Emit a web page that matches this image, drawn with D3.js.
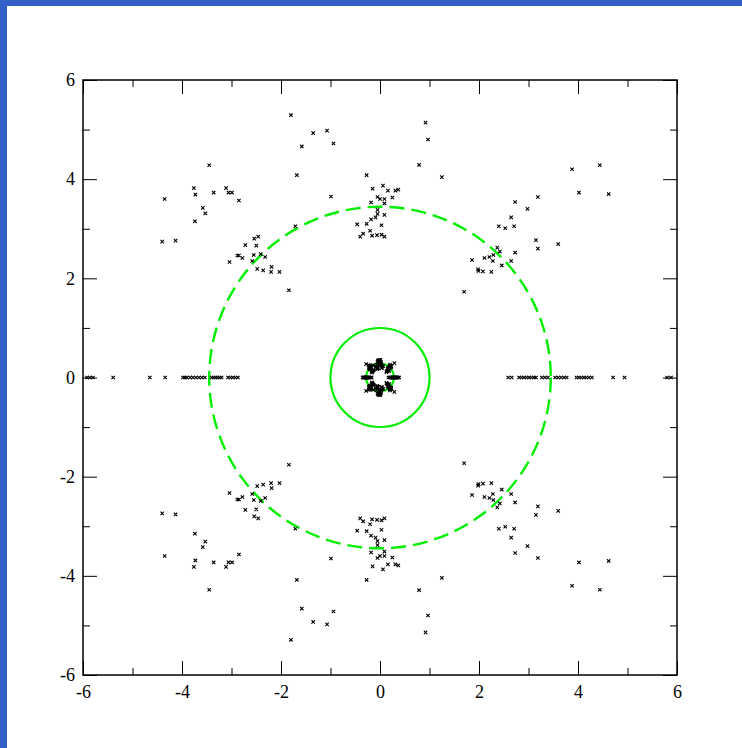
<!DOCTYPE html>
<html>
<head>
<meta charset="utf-8">
<script src="https://cdn.jsdelivr.net/npm/d3@7"></script>
<style>
  html, body { margin: 0; padding: 0; background: #ffffff; }
  svg { display: block; }
</style>
</head>
<body>
<svg id="chart" width="742" height="748"></svg>
<script>
// Axis ticks
const majorTicks = [-6, -4, -2, 0, 2, 4, 6];
const minorTicks = [-5, -3, -1, 1, 3, 5];

// Reference circles (radius in plot units)
const solidCircleRadius = [1, 0.28];
const dashedCircleRadius = [3.45];

// Roots in the upper half plane [re, im]
const upperRoots = [
  [-1.80, 5.29], [-1.35, 4.93], [-1.07, 4.98], [-1.58, 4.66], [-0.94, 4.72],
  [-1.68, 4.08], [-0.99, 3.65], [-1.71, 3.05], [-1.84, 1.76],
  [-3.45, 4.28], [-3.76, 3.82], [-3.11, 3.82], [-3.73, 3.69], [-3.36, 3.73],
  [-3.06, 3.73], [-2.99, 3.73], [-4.35, 3.60], [-2.85, 3.57], [-3.58, 3.42],
  [-3.53, 3.31], [-3.74, 3.15], [-4.40, 2.74], [-4.13, 2.76],
  [-2.54, 2.80], [-2.46, 2.84], [-2.72, 2.67], [-2.50, 2.66], [-2.88, 2.46],
  [-2.85, 2.46], [-2.78, 2.41], [-3.04, 2.33], [-2.55, 2.47], [-2.41, 2.49],
  [-2.32, 2.43], [-2.58, 2.35], [-2.48, 2.19], [-2.36, 2.16], [-2.19, 2.23],
  [-2.20, 2.13], [-2.03, 2.13],
  [-0.27, 4.08], [-0.15, 3.81], [0.06, 3.87], [0.16, 3.77], [0.31, 3.77],
  [0.37, 3.79], [-0.05, 3.64], [0.00, 3.60], [0.09, 3.60], [0.25, 3.63],
  [-0.18, 3.53], [0.09, 3.51], [-0.05, 3.38], [-0.05, 3.30], [-0.09, 3.23],
  [0.09, 3.28], [-0.18, 3.19], [-0.46, 3.09], [-0.27, 3.10], [0.03, 3.07],
  [-0.20, 2.96], [-0.34, 2.90], [-0.40, 2.84], [-0.16, 2.86], [-0.06, 2.87],
  [0.03, 2.88], [0.09, 2.84],
  [0.92, 5.14], [0.97, 4.80], [0.79, 4.29], [1.25, 4.04], [1.70, 1.73],
  [3.88, 4.20], [4.44, 4.28], [4.02, 3.73], [4.62, 3.70], [2.73, 3.54],
  [3.19, 3.64], [2.98, 3.40], [2.65, 3.23], [2.40, 3.05], [2.53, 3.01],
  [2.71, 3.05], [3.15, 2.77], [3.19, 2.60], [3.60, 2.69], [2.37, 2.62],
  [2.42, 2.54], [2.73, 2.52], [1.86, 2.37], [2.11, 2.41], [2.21, 2.43],
  [2.29, 2.47], [2.28, 2.35], [2.65, 2.35], [2.46, 2.26], [1.98, 2.18],
  [1.99, 2.15], [2.08, 2.14], [2.25, 2.13]
];

// Roots in the lower half plane [re, im]
const lowerRoots = [
  [-1.80, -5.29], [-1.35, -4.93], [-1.07, -4.98], [-1.58, -4.66], [-0.94, -4.72],
  [-1.68, -4.08], [-0.99, -3.65], [-1.71, -3.05], [-1.84, -1.76],
  [-3.45, -4.28], [-3.76, -3.82], [-3.11, -3.82], [-3.73, -3.69], [-3.36, -3.73],
  [-3.06, -3.73], [-2.99, -3.73], [-4.35, -3.60], [-2.85, -3.57], [-3.58, -3.42],
  [-3.53, -3.31], [-3.74, -3.15], [-4.40, -2.74], [-4.13, -2.76],
  [-2.54, -2.80], [-2.46, -2.84], [-2.72, -2.67], [-2.50, -2.66], [-2.88, -2.46],
  [-2.85, -2.46], [-2.78, -2.41], [-3.04, -2.33], [-2.55, -2.47], [-2.41, -2.49],
  [-2.32, -2.43], [-2.58, -2.35], [-2.48, -2.19], [-2.36, -2.16], [-2.19, -2.23],
  [-2.20, -2.13], [-2.03, -2.13],
  [-0.27, -4.08], [-0.15, -3.81], [0.06, -3.87], [0.16, -3.77], [0.31, -3.77],
  [0.37, -3.79], [-0.05, -3.64], [0.00, -3.60], [0.09, -3.60], [0.25, -3.63],
  [-0.18, -3.53], [0.09, -3.51], [-0.05, -3.38], [-0.05, -3.30], [-0.09, -3.23],
  [0.09, -3.28], [-0.18, -3.19], [-0.46, -3.09], [-0.27, -3.10], [0.03, -3.07],
  [-0.20, -2.96], [-0.34, -2.90], [-0.40, -2.84], [-0.16, -2.86], [-0.06, -2.87],
  [0.03, -2.88], [0.09, -2.84],
  [0.92, -5.14], [0.97, -4.80], [0.79, -4.29], [1.25, -4.04], [1.70, -1.73],
  [3.88, -4.20], [4.44, -4.28], [4.02, -3.73], [4.62, -3.70], [2.73, -3.54],
  [3.19, -3.64], [2.98, -3.40], [2.65, -3.23], [2.40, -3.05], [2.53, -3.01],
  [2.71, -3.05], [3.15, -2.77], [3.19, -2.60], [3.60, -2.69], [2.37, -2.62],
  [2.42, -2.54], [2.73, -2.52], [1.86, -2.37], [2.11, -2.41], [2.21, -2.43],
  [2.29, -2.47], [2.28, -2.35], [2.65, -2.35], [2.46, -2.26], [1.98, -2.18],
  [1.99, -2.15], [2.08, -2.14], [2.25, -2.13]
];

// Real roots (imaginary part zero)
const realRoots = [
  -5.92, -5.86, -5.80, -5.39, -4.65, -4.34, -3.98, -3.94, -3.90, -3.84, -3.78,
  -3.72, -3.66, -3.60, -3.54, -3.40, -3.36, -3.32, -3.28, -3.24, -3.20,
  -3.07, -3.02, -2.97, -2.92, -2.87,
  2.59, 2.66, 2.81, 2.86, 2.91, 2.96, 3.01, 3.06, 3.11, 3.15, 3.27, 3.33, 3.39,
  3.54, 3.60, 3.66, 3.72, 3.77, 3.97, 4.02, 4.07, 4.12, 4.17, 4.22, 4.28,
  4.71, 4.94, 5.80, 5.88,
  -0.35, -0.34, -0.33, -0.325, -0.31, -0.30, -0.295, -0.29, -0.28, -0.275,
  -0.27, -0.265, -0.26, -0.255, -0.25, -0.23, -0.21, -0.185, -0.175, -0.17,
  0.386, 0.376, 0.356, 0.35, 0.34, 0.33, 0.32, 0.31, 0.30, 0.295, 0.29, 0.28,
  0.275, 0.27, 0.265, 0.25, 0.245, 0.24, 0.235, 0.21, 0.20, 0.17
];

// Small roots clustered around the origin, upper half [re, im]
const innerUpperRoots = [
  [-0.23, 0.25], [-0.21, 0.23], [-0.21, 0.24], [-0.20, 0.22], [-0.22, 0.21],
  [-0.19, 0.20], [-0.20, 0.19], [-0.21, 0.18], [-0.20, 0.17], [-0.19, 0.17],
  [-0.18, 0.19], [-0.22, 0.19], [-0.18, 0.21], [-0.19, 0.22], [-0.21, 0.20],
  [-0.135, 0.142], [-0.14, 0.15], [-0.16, 0.13], [-0.15, 0.12], [-0.164, 0.10],
  [-0.13, 0.15], [-0.17, 0.14], [-0.15, 0.14],
  [-0.058, 0.17], [-0.05, 0.18], [-0.045, 0.19], [-0.065, 0.19], [-0.04, 0.20],
  [-0.09, 0.22], [-0.07, 0.26], [-0.14, 0.25], [-0.28, 0.27],
  [0.00, 0.25], [0.01, 0.26], [-0.01, 0.27], [0.02, 0.27], [0.00, 0.28],
  [0.01, 0.29], [-0.01, 0.30], [0.00, 0.31], [0.02, 0.31], [-0.02, 0.32],
  [-0.05, 0.32], [-0.04, 0.34], [-0.02, 0.35], [0.00, 0.35], [0.01, 0.35],
  [-0.03, 0.33], [0.03, 0.26],
  [0.034, 0.188], [0.04, 0.20], [0.04, 0.23], [0.07, 0.23], [0.29, 0.29], [0.205, 0.26],
  [0.22, 0.23], [0.21, 0.22], [0.23, 0.22], [0.20, 0.24], [0.22, 0.21],
  [0.20, 0.23], [0.19, 0.21], [0.21, 0.20], [0.18, 0.20], [0.17, 0.18],
  [0.16, 0.19], [0.18, 0.16], [0.135, 0.125], [0.13, 0.11], [0.15, 0.14],
  [0.18, 0.13], [0.16, 0.15], [0.17, 0.17]
];

// Small roots clustered around the origin, lower half [re, im]
const innerLowerRoots = [
  [-0.23, -0.25], [-0.21, -0.23], [-0.21, -0.24], [-0.20, -0.22], [-0.22, -0.21],
  [-0.19, -0.20], [-0.20, -0.19], [-0.21, -0.18], [-0.20, -0.17], [-0.19, -0.17],
  [-0.18, -0.19], [-0.22, -0.19], [-0.18, -0.21], [-0.19, -0.22], [-0.21, -0.20],
  [-0.135, -0.142], [-0.14, -0.15], [-0.16, -0.13], [-0.15, -0.12], [-0.164, -0.10],
  [-0.13, -0.15], [-0.17, -0.14], [-0.15, -0.14],
  [-0.058, -0.17], [-0.05, -0.18], [-0.045, -0.19], [-0.065, -0.19], [-0.04, -0.20],
  [-0.09, -0.22], [-0.07, -0.26], [-0.14, -0.25], [-0.28, -0.27],
  [0.00, -0.25], [0.01, -0.26], [-0.01, -0.27], [0.02, -0.27], [0.00, -0.28],
  [0.01, -0.29], [-0.01, -0.30], [0.00, -0.31], [0.02, -0.31], [-0.02, -0.32],
  [-0.05, -0.32], [-0.04, -0.34], [-0.02, -0.35], [0.00, -0.35], [0.01, -0.35],
  [-0.03, -0.33], [0.03, -0.26],
  [0.034, -0.188], [0.04, -0.20], [0.04, -0.23], [0.07, -0.23], [0.29, -0.29], [0.205, -0.26],
  [0.22, -0.23], [0.21, -0.22], [0.23, -0.22], [0.20, -0.24], [0.22, -0.21],
  [0.20, -0.23], [0.19, -0.21], [0.21, -0.20], [0.18, -0.20], [0.17, -0.18],
  [0.16, -0.19], [0.18, -0.16], [0.135, -0.125], [0.13, -0.11], [0.15, -0.14],
  [0.18, -0.13], [0.16, -0.15], [0.17, -0.17]
];

const W = 742, H = 748;
const plot = { left: 83, right: 677, top: 80, bottom: 675 };
const serifFont = "'Liberation Serif', 'Times New Roman', Times, 'DejaVu Serif', serif";

const svg = d3.select("#chart");

// Page frame
svg.append("rect").attr("x", 0).attr("y", 0).attr("width", W).attr("height", H).attr("fill", "#ffffff");
svg.append("rect").attr("x", 0).attr("y", 0).attr("width", W).attr("height", 6).attr("fill", "#3360c6");
svg.append("rect").attr("x", 0).attr("y", 0).attr("width", 7).attr("height", H).attr("fill", "#3360c6");

const x = d3.scaleLinear().domain([-6, 6]).range([plot.left, plot.right]);
const y = d3.scaleLinear().domain([-6, 6]).range([plot.bottom, plot.top]);

const fmt = d => String(d);

// Axes with inward ticks on all four sides
function styleAxis(g) {
  g.attr("font-family", serifFont).attr("font-size", 18);
  g.select(".domain").remove();
  g.selectAll(".tick line").attr("stroke", "#000").attr("stroke-width", 1);
  g.selectAll(".tick text")
    .style("font-family", serifFont)
    .style("font-size", "18px")
    .attr("fill", "#000");
}

svg.append("g").attr("transform", `translate(0,${plot.bottom})`)
  .call(d3.axisBottom(x).tickValues(majorTicks).tickSize(-14).tickPadding(10).tickFormat(fmt))
  .call(styleAxis);
svg.append("g").attr("transform", `translate(0,${plot.bottom})`)
  .call(d3.axisBottom(x).tickValues(minorTicks).tickSize(-7).tickFormat(""))
  .call(styleAxis);
svg.append("g").attr("transform", `translate(0,${plot.top})`)
  .call(d3.axisTop(x).tickValues(majorTicks).tickSize(-14).tickFormat(""))
  .call(styleAxis);
svg.append("g").attr("transform", `translate(0,${plot.top})`)
  .call(d3.axisTop(x).tickValues(minorTicks).tickSize(-7).tickFormat(""))
  .call(styleAxis);
svg.append("g").attr("transform", `translate(${plot.left},0)`)
  .call(d3.axisLeft(y).tickValues(majorTicks).tickSize(-14).tickPadding(8).tickFormat(fmt))
  .call(styleAxis);
svg.append("g").attr("transform", `translate(${plot.left},0)`)
  .call(d3.axisLeft(y).tickValues(minorTicks).tickSize(-7).tickFormat(""))
  .call(styleAxis);
svg.append("g").attr("transform", `translate(${plot.right},0)`)
  .call(d3.axisRight(y).tickValues(majorTicks).tickSize(-14).tickFormat(""))
  .call(styleAxis);
svg.append("g").attr("transform", `translate(${plot.right},0)`)
  .call(d3.axisRight(y).tickValues(minorTicks).tickSize(-7).tickFormat(""))
  .call(styleAxis);

// Plot frame
svg.append("rect")
  .attr("x", plot.left).attr("y", plot.top)
  .attr("width", plot.right - plot.left).attr("height", plot.bottom - plot.top)
  .attr("fill", "none").attr("stroke", "#000").attr("stroke-width", 1.5);

// Reference circles
const rx = r => x(r) - x(0);
svg.selectAll(".solid-circle").data(solidCircleRadius).join("circle")
  .attr("class", "solid-circle")
  .attr("cx", x(0)).attr("cy", y(0)).attr("r", d => rx(d))
  .attr("fill", "none").attr("stroke", "#00ee00").attr("stroke-width", 2.2);
svg.selectAll(".dashed-circle").data(dashedCircleRadius).join("circle")
  .attr("class", "dashed-circle")
  .attr("cx", x(0)).attr("cy", y(0)).attr("r", d => rx(d))
  .attr("fill", "none").attr("stroke", "#00ee00").attr("stroke-width", 2.4)
  .attr("stroke-dasharray", "15,7");

// Root markers
const allRoots = upperRoots.concat(lowerRoots, innerUpperRoots, innerLowerRoots,
  realRoots.map(v => [v, 0]));
const s = 1.7;
svg.append("g").selectAll("path").data(allRoots).join("path")
  .attr("d", d => {
    const cx = x(d[0]), cy = y(d[1]);
    return `M${cx - s},${cy - s}L${cx + s},${cy + s}M${cx - s},${cy + s}L${cx + s},${cy - s}`;
  })
  .attr("stroke", "#000").attr("stroke-width", 1.1).attr("fill", "none");
</script>
</body>
</html>
